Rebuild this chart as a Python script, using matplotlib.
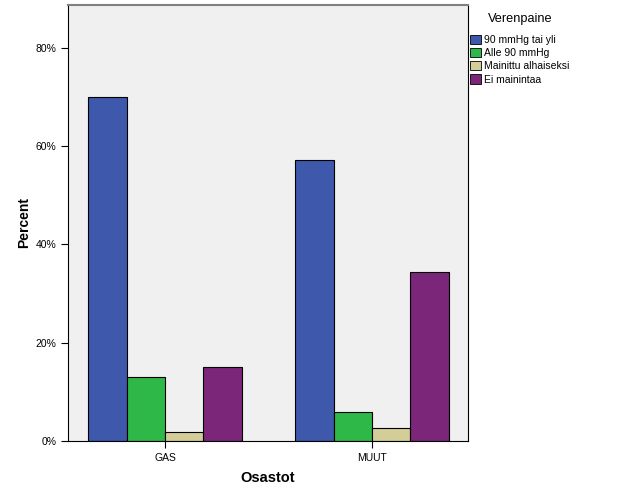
import matplotlib
matplotlib.use("Agg")
import matplotlib.pyplot as plt
from matplotlib.patches import Patch
from matplotlib.ticker import FuncFormatter
import numpy as np

plt.rcParams['font.family'] = ['Liberation Sans', 'DejaVu Sans']

categories = ["GAS", "MUUT"]
series_names = ["90 mmHg tai yli", "Alle 90 mmHg", "Mainittu alhaiseksi", "Ei mainintaa"]
values = {
    "90 mmHg tai yli": [70.0, 57.2],
    "Alle 90 mmHg": [13.0, 5.9],
    "Mainittu alhaiseksi": [1.9, 2.6],
    "Ei mainintaa": [15.0, 34.3],
}
colors = ["#3e58ac", "#2eb848", "#d3ce97", "#7b2678"]

fig = plt.figure(figsize=(6.26, 5.01), dpi=100)
ax = fig.add_axes([68 / 626, 1 - 441 / 501, 400 / 626, 436 / 501])
ax.set_facecolor("#f0f0f0")

x = np.arange(len(categories))
w = 0.185
for i, name in enumerate(series_names):
    ax.bar(x + (i - 2) * w, values[name], width=w, align="edge",
           color=colors[i], edgecolor="black", linewidth=0.8)

ax.set_xlim(-0.4686, 1.4638)
ax.set_ylim(0, 88.75)
ax.set_yticks([0, 20, 40, 60, 80])
ax.yaxis.set_major_formatter(FuncFormatter(lambda v, p: f"{int(v)}%"))
ax.set_xticks(x)
ax.set_xticklabels(categories)
ax.tick_params(axis="both", labelsize=7.5, length=5, width=0.8, direction="out")

for s in ["left", "bottom", "right"]:
    ax.spines[s].set_color("black")
    ax.spines[s].set_linewidth(0.8)
ax.spines["top"].set_color("#808080")
ax.spines["top"].set_linewidth(1.5)

ax.set_ylabel("Percent", fontsize=10, fontweight="bold", labelpad=3)
ax.set_xlabel("Osastot", fontsize=10.5, fontweight="bold", labelpad=6)

handles = [Patch(facecolor=c, edgecolor="black", linewidth=0.6) for c in colors]
leg = fig.legend(handles, series_names, title="Verenpaine",
                 loc="upper left", bbox_to_anchor=(467 / 626, 1 - 10 / 501),
                 frameon=False, fontsize=7.5, title_fontsize=9.2,
                 handlelength=1.0, handleheight=1.0, handletextpad=0.35,
                 labelspacing=0.28, borderaxespad=0, borderpad=0.3)
leg._legend_box.sep = 7

fig.savefig("out.png", dpi=100)
